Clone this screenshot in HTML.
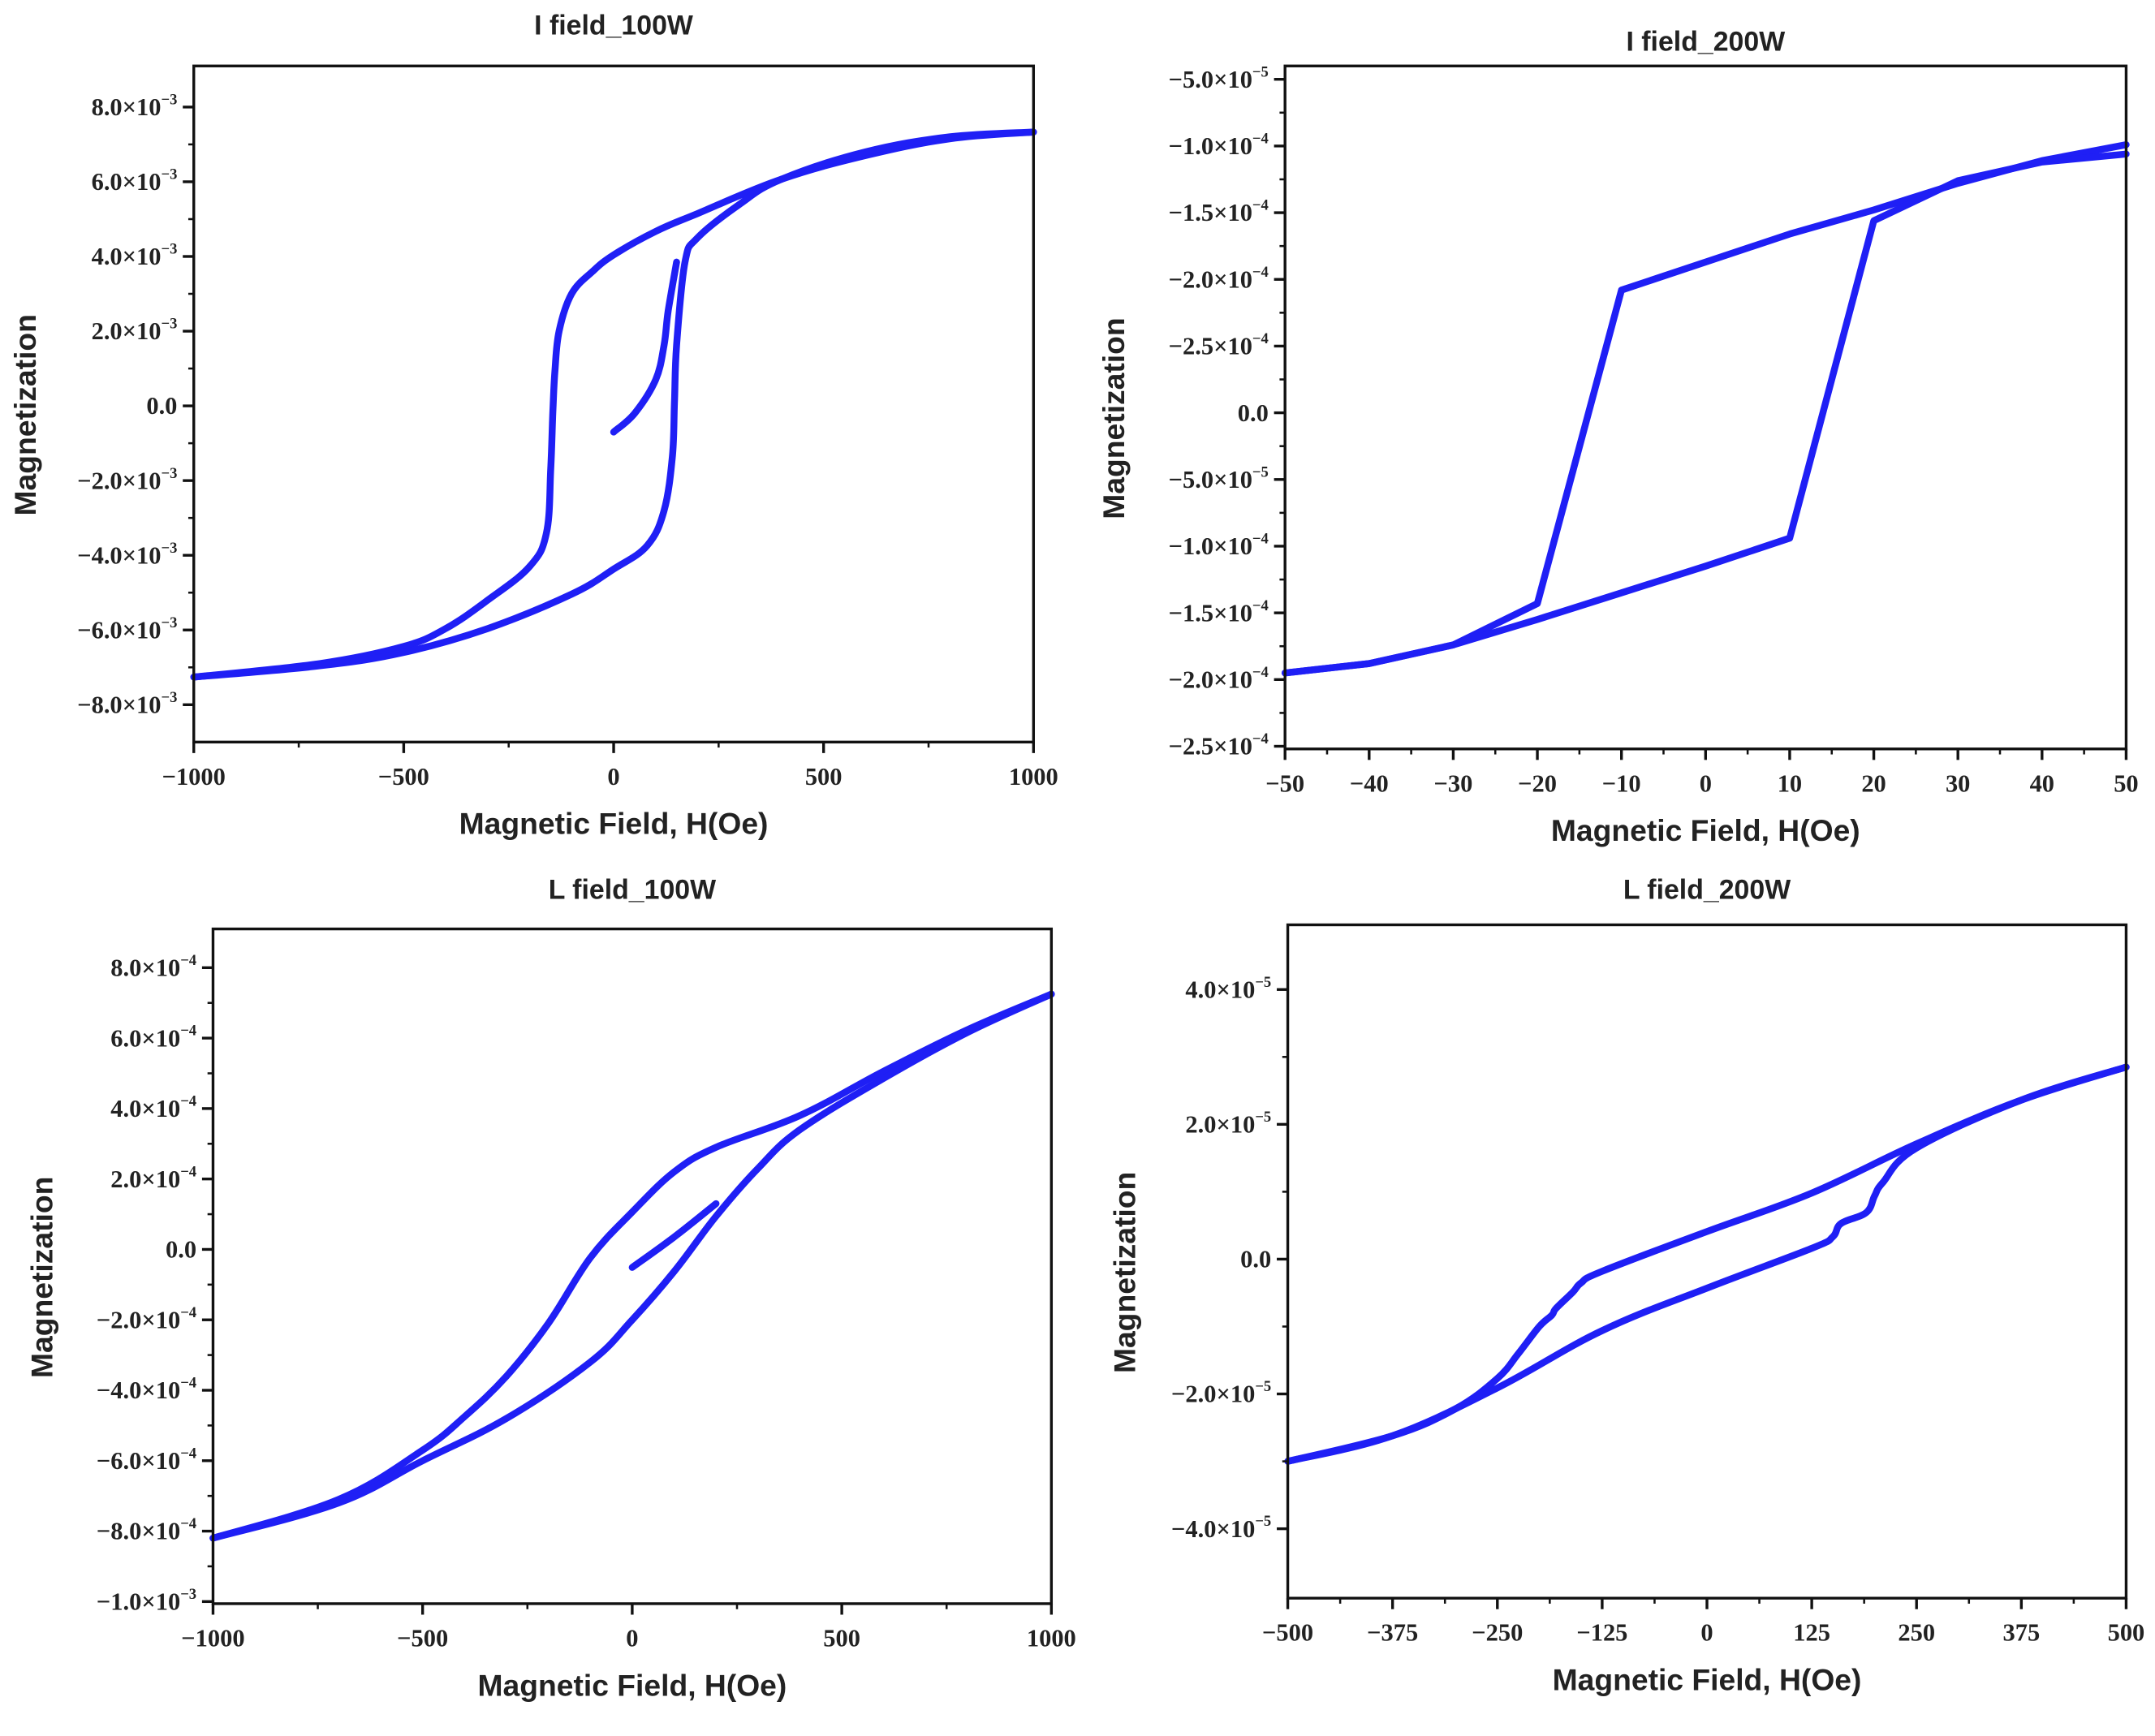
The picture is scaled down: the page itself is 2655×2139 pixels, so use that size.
<!DOCTYPE html>
<html><head><meta charset="utf-8"><style>
html,body{margin:0;padding:0;background:#fff;}
svg{display:block;}
.tk{font-family:"Liberation Serif",serif;font-weight:bold;font-size:18px;fill:#222;}
.tt{font-family:"Liberation Sans",sans-serif;font-weight:bold;font-size:20px;fill:#222;}
.al{font-family:"Liberation Sans",sans-serif;font-weight:bold;font-size:22px;fill:#222;}
</style></head><body>
<svg id="fig" width="2655" height="2139" viewBox="0 0 1568 1263.3" preserveAspectRatio="none"></svg>
<script>
// ---------- Panel A: I field_100W (values in 1e-3) ----------
const aUpX=[1000,800,600,400,200,100,0,-50,-100,-130,-140,-145,-150,-160,-200,-300,-400,-500,-700,-1000];
const aUpY=[7.33,7.15,6.7,6.07,5.15,4.67,4.04,3.6,3.0,2.0,0.9,-0.2,-1.7,-3.4,-4.3,-5.2,-5.96,-6.44,-6.9,-7.26];
const aLoX=[-1000,-700,-500,-300,-100,0,80,120,140,145,150,170,200,300,400,600,800,1000];
const aLoY=[-7.26,-6.96,-6.6,-5.96,-5.04,-4.37,-3.74,-2.8,-1.33,0.15,1.63,3.85,4.5,5.4,6.07,6.8,7.2,7.33];
const aInX=[0,50,100,120,130,150];
const aInY=[-0.7,-0.2,0.7,1.63,2.55,3.85];
const aXT=[-1000,-500,0,500,1000];
const aYT=[8,6,4,2,0,-2,-4,-6,-8];
const aYL=["8.0×10|−3","6.0×10|−3","4.0×10|−3","2.0×10|−3","0.0","−2.0×10|−3","−4.0×10|−3","−6.0×10|−3","−8.0×10|−3"];
// ---------- Panel B: I field_200W (values in 1e-4) ----------
const bUpX=[50,40,30,20,10,0,-10,-20,-30,-40,-50];
const bUpY=[2.01,1.89,1.72,1.52,1.34,1.13,0.92,-1.43,-1.74,-1.88,-1.95];
const bLoX=[-50,-40,-30,-20,-10,0,10,20,30,40,50];
const bLoY=[-1.95,-1.88,-1.74,-1.55,-1.35,-1.15,-0.94,1.44,1.74,1.88,1.94];
const bXT=[-50,-40,-30,-20,-10,0,10,20,30,40,50];
const bYT=[2.5,2.0,1.5,1.0,0.5,0,-0.5,-1.0,-1.5,-2.0,-2.5];
const bYL=["−5.0×10|−5","−1.0×10|−4","−1.5×10|−4","−2.0×10|−4","−2.5×10|−4","0.0","−5.0×10|−5","−1.0×10|−4","−1.5×10|−4","−2.0×10|−4","−2.5×10|−4"];
// ---------- Panel C: L field_100W (values in 1e-4) ----------
const cUpX=[1000,800,600,400,200,100,0,-100,-200,-300,-400,-500,-700,-1000];
const cUpY=[7.25,6.24,5.06,3.8,2.9,2.2,1.06,-0.24,-2.1,-3.6,-4.75,-5.7,-7.1,-8.2];
const cLoX=[-1000,-700,-500,-300,-100,0,100,200,300,400,600,800,1000];
const cLoY=[-8.2,-7.2,-6.0,-4.8,-3.2,-2.0,-0.63,0.94,2.3,3.4,4.86,6.16,7.25];
const cInX=[0,100,200];
const cInY=[-0.51,0.35,1.3];
const cXT=[-1000,-500,0,500,1000];
const cYT=[8,6,4,2,0,-2,-4,-6,-8,-10];
const cYL=["8.0×10|−4","6.0×10|−4","4.0×10|−4","2.0×10|−4","0.0","−2.0×10|−4","−4.0×10|−4","−6.0×10|−4","−8.0×10|−4","−1.0×10|−3"];
// ---------- Panel D: L field_200W (values in 1e-5) ----------
const dUpX=[500,375,250,125,0,-125,-150,-160,-180,-185,-200,-225,-250,-300,-375,-500];
const dUpY=[2.85,2.36,1.71,0.98,0.41,-0.18,-0.35,-0.49,-0.73,-0.83,-1.0,-1.4,-1.77,-2.22,-2.62,-3.0];
const dLoX=[-500,-375,-250,-125,0,125,150,160,190,200,210,250,375,500];
const dLoY=[-3.0,-2.62,-1.91,-1.06,-0.43,0.16,0.33,0.53,0.69,0.94,1.14,1.65,2.36,2.85];
const dXT=[-500,-375,-250,-125,0,125,250,375,500];
const dYT=[4,2,0,-2,-4];
const dYL=["4.0×10|−5","2.0×10|−5","0.0","−2.0×10|−5","−4.0×10|−5"];

const NS="http://www.w3.org/2000/svg";
const svg=document.getElementById('fig');
function el(tag,attrs,parent){const e=document.createElementNS(NS,tag);for(const k in attrs)e.setAttribute(k,attrs[k]);(parent||svg).appendChild(e);return e;}

function smoothPath(P,sharp){
  let d='M'+P[0][0].toFixed(1)+','+P[0][1].toFixed(1);
  for(let i=0;i<P.length-1;i++){
    const p0=P[Math.max(0,i-1)],p1=P[i],p2=P[i+1],p3=P[Math.min(P.length-1,i+2)];
    if(sharp){d+=' L'+p2[0].toFixed(1)+','+p2[1].toFixed(1);continue;}
    const t=0.18;
    const c1=[p1[0]+(p2[0]-p0[0])*t,p1[1]+(p2[1]-p0[1])*t];
    const c2=[p2[0]-(p3[0]-p1[0])*t,p2[1]-(p3[1]-p1[1])*t];
    d+=' C'+c1[0].toFixed(1)+','+c1[1].toFixed(1)+' '+c2[0].toFixed(1)+','+c2[1].toFixed(1)+' '+p2[0].toFixed(1)+','+p2[1].toFixed(1);
  }
  return d;
}

function panel(p){
  const g=el('g',{});
  
  
  const sx=v=>p.x0+(v-p.xmin)/(p.xmax-p.xmin)*(p.x1-p.x0);
  const sy=v=>p.y1-(v-p.ymin)/(p.ymax-p.ymin)*(p.y1-p.y0);
  p.series.forEach(s=>{
    const P=s[0].map((x,j)=>[sx(x),sy(s[1][j])]);
    const pl=el('path',{d:smoothPath(P,p.sharp),fill:'none',stroke:'#1f1ff5','stroke-width':5,'stroke-linejoin':'round','stroke-linecap':'round'},g);
    
    
  });
  const fr=el('rect',{x:p.x0,y:p.y0,width:p.x1-p.x0,height:p.y1-p.y0,fill:'none',stroke:'#111','stroke-width':2},g);
  
  
  for(let i=0;i<p.xt.length;i++){
    const x=sx(p.xt[i]);
    el('line',{x1:x,y1:p.y1,x2:x,y2:p.y1+8,stroke:'#111','stroke-width':2},g);
    if(i<p.xt.length-1){const xm=sx((p.xt[i]+p.xt[i+1])/2);el('line',{x1:xm,y1:p.y1,x2:xm,y2:p.y1+4,stroke:'#111','stroke-width':1.5},g);}
    const t=el('text',{x:x,y:p.y1+31,'text-anchor':'middle',class:'tk'},g);
    t.textContent=String(p.xt[i]).replace('-','−');
    
    
  }
  for(let i=0;i<p.yt.length;i++){
    const y=sy(p.yt[i]);
    el('line',{x1:p.x0,y1:y,x2:p.x0-8,y2:y,stroke:'#111','stroke-width':2},g);
    if(i<p.yt.length-1){const ym=sy((p.yt[i]+p.yt[i+1])/2);el('line',{x1:p.x0,y1:ym,x2:p.x0-4,y2:ym,stroke:'#111','stroke-width':1.5},g);}
    const parts=p.yl[i].split('|');
    const t=el('text',{x:p.x0-12,y:y+6,'text-anchor':'end',class:'tk'},g);
    
    
    if(parts.length>1){
      const a=el('tspan',{},t);a.textContent=parts[0];
      const b=el('tspan',{dy:-8,'font-size':11},t);b.textContent=parts[1];
    } else t.textContent=parts[0];
  }
  const tt=el('text',{x:(p.x0+p.x1)/2,y:p.ty,'text-anchor':'middle',class:'tt'},g);
  tt.textContent=p.title;
  
  
  const xl=el('text',{x:(p.x0+p.x1)/2,y:p.y1+67,'text-anchor':'middle',class:'al'},g);
  xl.textContent='Magnetic Field, H(Oe)';
  
  
  const cy=(p.y0+p.y1)/2+8;
  const yl=el('text',{x:p.ylx,y:cy,'text-anchor':'middle',class:'al',transform:`rotate(-90 ${p.ylx} ${cy})`},g);
  yl.textContent='Magnetization';
  
  
}

panel({name:'panel-i-field-100w',title:'I field_100W',ty:25,x0:141,x1:752,y0:48,y1:540,xmin:-1000,xmax:1000,ymin:-9.0,ymax:9.1,ylx:26,
  xt:aXT,yt:aYT,yl:aYL,series:[[aUpX,aUpY,'descending-branch'],[aLoX,aLoY,'ascending-branch'],[aInX,aInY,'initial-curve']]});
panel({name:'panel-i-field-200w',title:'I field_200W',ty:37,sharp:true,x0:935,x1:1547,y0:48,y1:545,xmin:-50,xmax:50,ymin:-2.52,ymax:2.6,ylx:818,
  xt:bXT,yt:bYT,yl:bYL,series:[[bUpX,bUpY,'descending-branch'],[bLoX,bLoY,'ascending-branch']]});
panel({name:'panel-l-field-100w',title:'L field_100W',ty:654,x0:155,x1:765,y0:676,y1:1167,xmin:-1000,xmax:1000,ymin:-10.06,ymax:9.1,ylx:38,
  xt:cXT,yt:cYT,yl:cYL,series:[[cUpX,cUpY,'descending-branch'],[cLoX,cLoY,'ascending-branch'],[cInX,cInY,'initial-curve']]});
panel({name:'panel-l-field-200w',title:'L field_200W',ty:654,x0:937,x1:1547,y0:673,y1:1163,xmin:-500,xmax:500,ymin:-5.03,ymax:4.96,ylx:826,
  xt:dXT,yt:dYT,yl:dYL,series:[[dUpX,dUpY,'descending-branch'],[dLoX,dLoY,'ascending-branch']]});
</script>
</body></html>
